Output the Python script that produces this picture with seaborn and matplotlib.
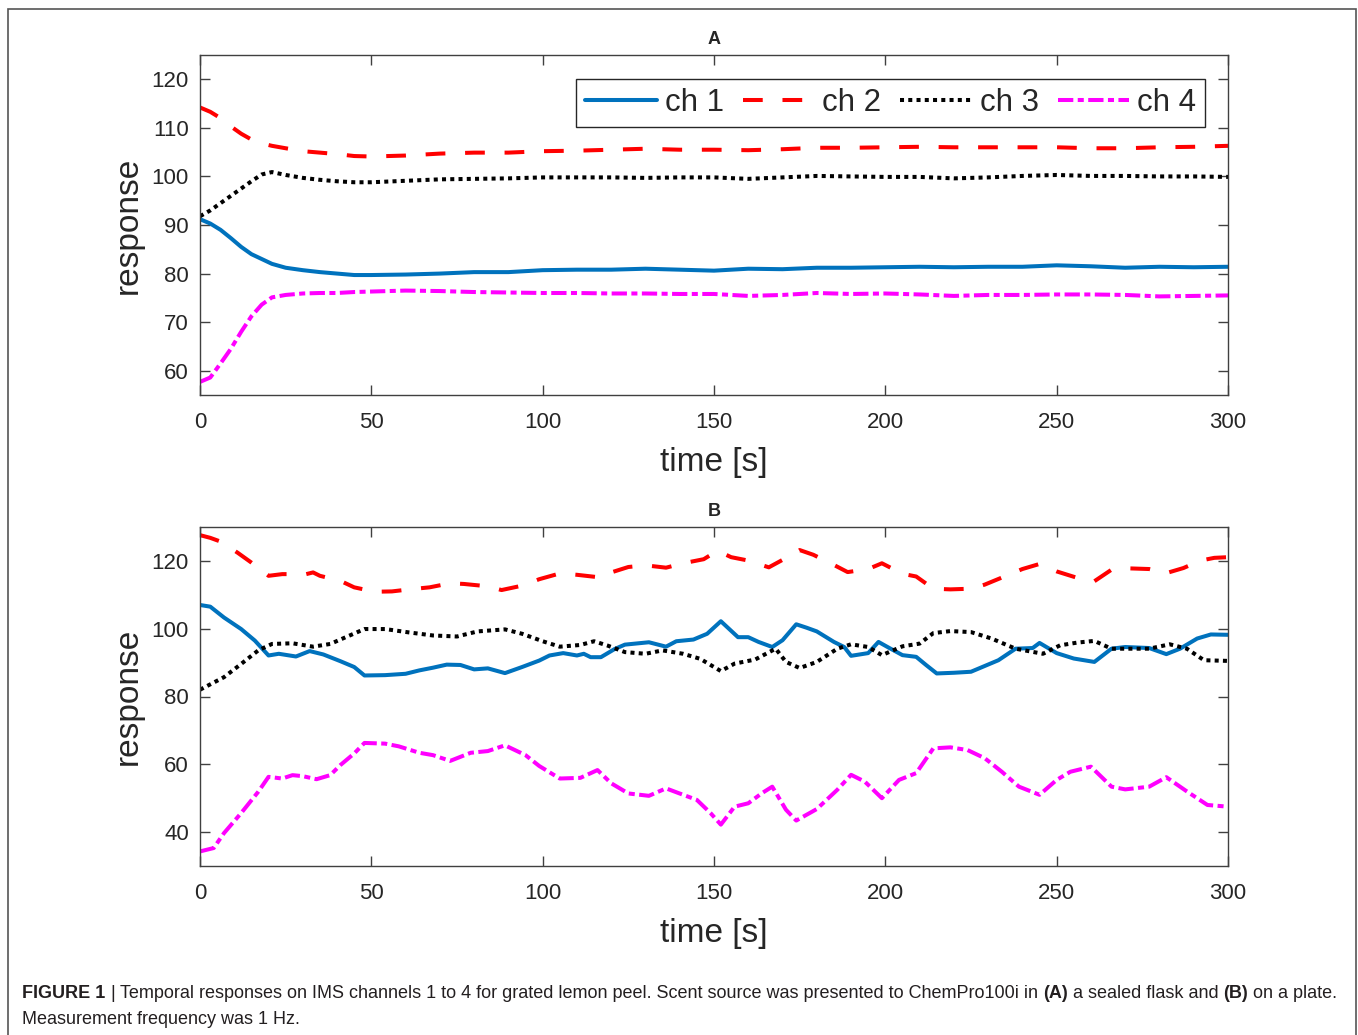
import numpy as np
import pandas as pd
import matplotlib
matplotlib.use('Agg')
import matplotlib.pyplot as plt
from matplotlib import font_manager
from matplotlib.patches import Rectangle
import seaborn as sns

# ---- panel A: sealed flask ----
time_a = [0, 3, 6, 9, 12, 15, 18, 21, 25, 30, 35, 40, 45, 50, 60, 70, 80, 90, 100, 110,
          120, 130, 140, 150, 160, 170, 180, 190, 200, 210, 220, 230, 240, 250, 260, 270,
          280, 290, 300]
ch1_a = [91.2, 90.3, 89, 87.3, 85.5, 84, 83, 82, 81.2, 80.7, 80.3, 80, 79.7, 79.7, 79.8, 80,
         80.3, 80.3, 80.7, 80.8, 80.8, 81, 80.8, 80.6, 81, 80.9, 81.2, 81.2, 81.3, 81.4,
         81.3, 81.4, 81.4, 81.7, 81.5, 81.2, 81.4, 81.3, 81.4]
ch2_a = [114.2, 113.3, 112, 110.3, 108.8, 107.6, 106.8, 106.3, 105.8, 105.2, 104.9, 104.6,
         104.2, 104.1, 104.3, 104.7, 104.9, 104.9, 105.2, 105.3, 105.5, 105.7, 105.5, 105.5,
         105.4, 105.6, 105.9, 105.9, 106, 106.1, 106, 106, 106, 106, 105.8, 105.8, 106,
         106.1, 106.3]
ch3_a = [91.8, 93, 94.5, 96, 97.5, 99, 100.4, 100.9, 100.3, 99.7, 99.3, 99, 98.8, 98.8, 99.1,
         99.4, 99.5, 99.6, 99.8, 99.8, 99.8, 99.7, 99.8, 99.8, 99.5, 99.8, 100.1, 100, 99.9,
         99.9, 99.6, 99.8, 100.1, 100.3, 100.1, 100.1, 100, 100, 99.9]
ch4_a = [57.7, 58.6, 61.5, 64.5, 68, 71.2, 73.6, 75.1, 75.6, 75.9, 76, 76, 76.2, 76.3, 76.5,
         76.4, 76.2, 76.1, 76, 76, 75.9, 75.9, 75.8, 75.8, 75.4, 75.6, 76, 75.8, 75.9, 75.7,
         75.4, 75.6, 75.6, 75.7, 75.7, 75.6, 75.3, 75.4, 75.5]

# ---- panel B: plate ----
time_b1 = [0, 3, 7, 12, 16, 20, 23, 28, 32, 36, 41, 45, 48, 54, 60, 64, 68, 72, 76, 80,
           84, 89, 94, 99, 102, 106, 110, 112, 114, 117, 121, 124, 131, 136, 139, 144, 148,
           152, 157, 160, 163, 167, 170, 174, 177, 180, 185, 188, 190, 195, 198, 201, 205,
           209, 212, 215, 220, 225, 229, 233, 238, 243, 245, 250, 255, 261, 266, 270, 277,
           282, 286, 291, 295, 300]
ch1_b = [107, 106.5, 103.3, 99.9, 96.5, 92.1, 92.6, 91.8, 93.4, 92.4, 90.4, 88.7, 86.2, 86.3,
         86.7, 87.7, 88.5, 89.4, 89.3, 88, 88.3, 86.9, 88.7, 90.6, 92.1, 92.8, 92.1, 92.6,
         91.6, 91.6, 94, 95.3, 96, 94.7, 96.3, 96.8, 98.5, 102.2, 97.5, 97.5, 96.1, 94.6,
         96.6, 101.3, 100.3, 99.2, 96.1, 94.6, 92, 92.8, 96.1, 94.4, 92.2, 91.7, 89.2, 86.8,
         87, 87.3, 89, 90.7, 94.1, 94.3, 95.8, 92.8, 91.2, 90.2, 94.1, 94.6, 94.3, 92.5,
         94.1, 97.1, 98.3, 98.2]

time_b2 = [0, 3, 6, 11, 15, 20, 24, 31, 33, 35, 41, 45, 51, 56, 62, 67, 73, 77, 84, 88,
           94, 99, 105, 110, 117, 120, 125, 130, 136, 141, 147, 151, 155, 160, 166, 170,
           175, 179, 185, 189, 195, 199, 205, 209, 214, 219, 225, 229, 235, 240, 245, 250,
           256, 261, 266, 271, 277, 282, 287, 292, 296, 300]
ch2_b = [127.6, 126.8, 125.7, 122.4, 119.5, 115.6, 116.1, 116.1, 116.6, 115.6, 114.1, 112.2,
         110.9, 111, 111.7, 112.2, 113.4, 113.2, 112.5, 111.4, 112.7, 114.6, 116.3, 115.9,
         115.1, 116.6, 118.2, 118.7, 118, 119.3, 120.5, 123, 121.1, 120.1, 118.1, 120.3,
         123.2, 121.8, 118.8, 116.7, 117.6, 119.3, 116.2, 115.4, 111.8, 111.6, 111.8, 113,
         115.5, 117.6, 119.1, 116.9, 115, 114, 117.4, 117.8, 117.6, 116.4, 117.9, 120.1,
         120.9, 121.1]

time_b3 = [0, 7, 12, 17, 21, 27, 33, 38, 43, 48, 54, 61, 68, 75, 81, 89, 94, 100, 105, 111,
           115, 119, 124, 130, 135, 141, 146, 152, 156, 162, 168, 171, 175, 180, 186, 190,
           195, 199, 205, 210, 214, 219, 225, 231, 238, 246, 251, 256, 261, 266, 271, 277,
           283, 288, 293, 300]
ch3_b = [82, 85.7, 89.6, 93.6, 95.5, 95.7, 94.7, 95.5, 97.7, 99.9, 99.9, 98.9, 98, 97.7,
         99.2, 99.8, 98.5, 96.3, 94.7, 95.2, 96.3, 95, 93.1, 92.6, 93.6, 92.6, 91.1, 87.5,
         89.7, 90.9, 94.1, 90.2, 88.4, 90.2, 94.1, 95.4, 94.6, 92.2, 94.8, 95.6, 98.7, 99.3,
         99, 97.1, 94.1, 92.6, 95.1, 95.9, 96.4, 94.1, 94.1, 94.1, 95.4, 94.1, 90.7, 90.5]

time_b4 = [0, 4, 7, 12, 17, 20, 24, 27, 30, 34, 38, 41, 45, 48, 54, 58, 64, 68, 73, 79,
           84, 89, 95, 99, 105, 111, 116, 120, 125, 131, 136, 141, 145, 149, 152, 156, 160,
           164, 167, 171, 174, 180, 186, 190, 194, 199, 204, 209, 214, 219, 224, 229, 234,
           239, 245, 250, 254, 260, 266, 270, 277, 282, 288, 294, 300]
ch4_b = [34.3, 35.3, 39.7, 45.6, 51.9, 56.3, 55.8, 56.8, 56.5, 55.6, 56.8, 59.8, 63.2, 66.3,
         66.1, 65.3, 63.4, 62.7, 61, 63.4, 63.9, 65.6, 62.7, 59.5, 55.8, 56, 58.3, 54.4,
         51.4, 50.7, 52.9, 51, 49.5, 45.6, 42.2, 47.5, 48.5, 51.5, 53.4, 46.6, 43.4, 46.8,
         52.5, 56.9, 54.9, 50, 55.4, 57.4, 64.7, 65, 64.2, 61.8, 57.8, 53.4, 51, 55.4, 57.8,
         59.3, 53.4, 52.6, 53.4, 56.2, 52, 48, 47.5]

labels = ['ch 1', 'ch 2', 'ch 3', 'ch 4']
colors = ['#0072BD', '#FF0000', '#000000', '#FF00FF']
styles = ['-', (0, (4.9, 4.9)), (0, (1.0, 1.05)), (0, (3.8, 1.1, 1.5, 1.1))]

sns.set_style('ticks')
plt.rcParams['font.family'] = ['Liberation Sans', 'DejaVu Sans']

W, H = 1358, 1035
fig = plt.figure(figsize=(W / 100, H / 100), dpi=100)
axA = fig.add_axes([200 / W, 1 - 395 / H, 1028 / W, 340 / H])
axB = fig.add_axes([200 / W, 1 - 866 / H, 1028 / W, 339 / H])

panel_a = [(time_a, ch1_a), (time_a, ch2_a), (time_a, ch3_a), (time_a, ch4_a)]
panel_b = [(time_b1, ch1_b), (time_b2, ch2_b), (time_b3, ch3_b), (time_b4, ch4_b)]

for ax, series in [(axA, panel_a), (axB, panel_b)]:
    for (t, v), lab, col, ls in zip(series, labels, colors, styles):
        df = pd.DataFrame({'time': t, 'response': v})
        sns.lineplot(data=df, x='time', y='response', ax=ax, color=col, linestyle=ls,
                     linewidth=2.9, estimator=None, sort=False, label=lab, legend=False)

axA.set_ylim(55, 125)
axA.set_yticks(np.arange(60, 121, 10))
axB.set_ylim(30, 130)
axB.set_yticks(np.arange(40, 121, 20))

for ax, title in [(axA, 'A'), (axB, 'B')]:
    ax.set_xlim(0, 300)
    ax.set_xticks(np.arange(0, 301, 50))
    ax.tick_params(direction='in', length=7, width=1, top=True, right=True,
                   labelsize=16, color='#404040', labelcolor='#262626')
    ax.tick_params(axis='y', pad=8)
    ax.tick_params(axis='x', pad=12)
    for sp in ax.spines.values():
        sp.set_visible(True)
        sp.set_color('#404040')
        sp.set_linewidth(1)
    ax.set_xlabel('time [s]', fontsize=24, color='#262626', labelpad=10)
    ax.set_ylabel('response', fontsize=24, color='#262626', labelpad=6)
    ax.set_title(title, fontsize=13, fontweight='bold', pad=8)

leg = axA.legend(loc='upper right', bbox_to_anchor=(0.9776, 0.9294), ncol=4, fontsize=22.5,
                 handlelength=2.3, handletextpad=0.25, columnspacing=0.6, borderpad=0.28,
                 borderaxespad=0, frameon=True, fancybox=False, edgecolor='#262626',
                 framealpha=1)
leg.get_frame().set_linewidth(1.0)

# outer frame of the figure panel
fig.patches.append(Rectangle((8 / W, -0.05), (1356 - 8) / W, 1 - 9 / H + 0.05,
                             transform=fig.transFigure, fill=False,
                             edgecolor='#555555', linewidth=1.2))

# caption
names = {f.name for f in font_manager.fontManager.ttflist}
cap_font = 'Liberation Sans Narrow' if 'Liberation Sans Narrow' in names else 'Liberation Sans'
renderer = fig.canvas.get_renderer()

line1 = [('FIGURE 1', 'bold'), ('|', 'normal'),
         ('Temporal responses on IMS channels 1 to 4 for grated lemon peel. Scent source '
          'was presented to ChemPro100i in', 'normal'),
         ('(A)', 'bold'), ('a sealed flask and', 'normal'), ('(B)', 'bold'),
         ('on a plate.', 'normal')]
line2 = [('Measurement frequency was 1 Hz.', 'normal')]


def text_width(s, size, weight):
    t = fig.text(0, 0, s, fontsize=size, fontweight=weight, family=cap_font)
    w = t.get_window_extent(renderer).width
    t.remove()
    return w


def line_width(parts, size):
    sp = text_width('a a', size, 'normal') - text_width('aa', size, 'normal')
    return sum(text_width(s, size, w) for s, w in parts) + sp * (len(parts) - 1), sp


w10, _ = line_width(line1, 10)
cap_size = 10 * 1318 / w10


def draw_line(parts, y_px):
    _, sp = line_width(parts, cap_size)
    x = 22
    for s, w in parts:
        fig.text(x / W, 1 - y_px / H, s, fontsize=cap_size, fontweight=w, family=cap_font,
                 color='#231f20', va='baseline')
        x += text_width(s, cap_size, w) + sp


draw_line(line1, 998)
draw_line(line2, 1024)

fig.savefig('out.png', dpi=100)
